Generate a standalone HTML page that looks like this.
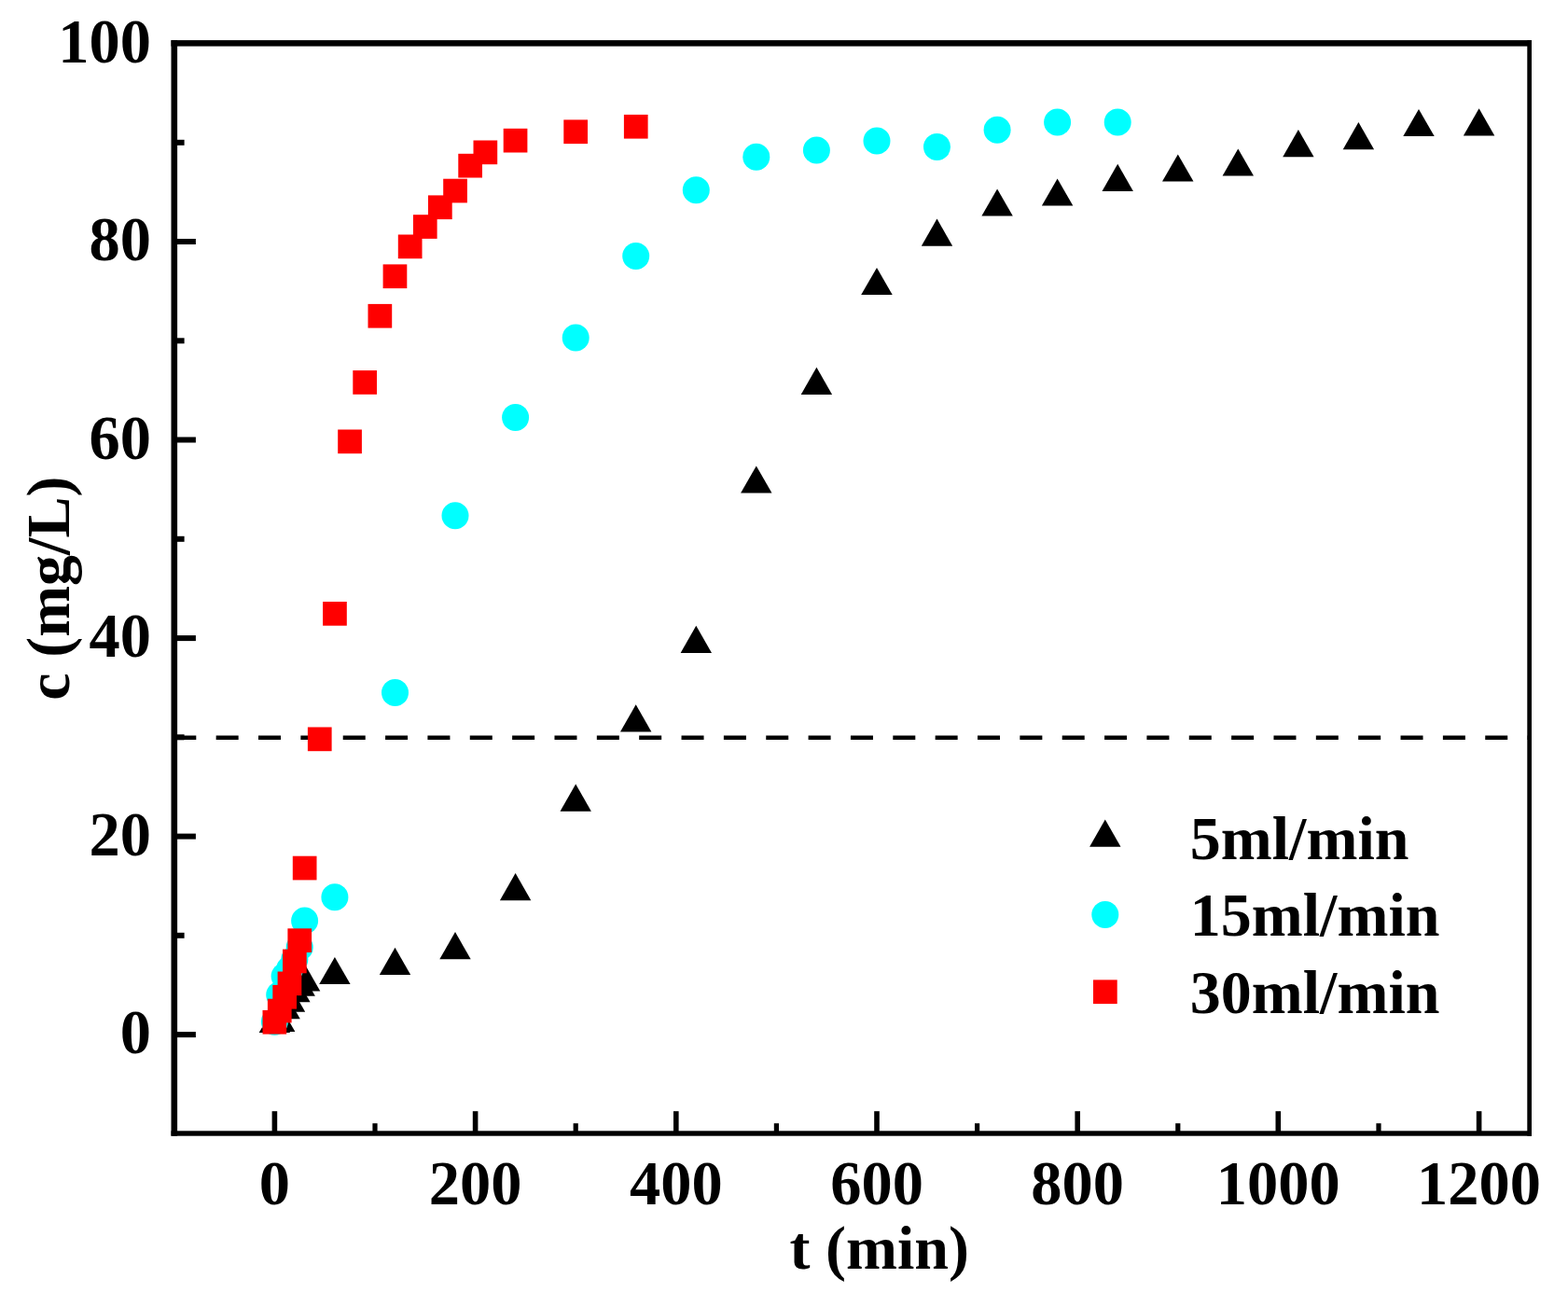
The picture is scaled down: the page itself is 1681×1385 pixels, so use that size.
<!DOCTYPE html>
<html lang="en"><head><meta charset="utf-8"><title>Breakthrough curves</title>
<style>
html,body{margin:0;padding:0;background:#fff;}
body{width:1681px;height:1385px;overflow:hidden;}
svg{display:block;}
text{font-family:"Liberation Serif",serif;font-weight:bold;font-size:66.5px;fill:#000;}
text.t66{font-size:66px;}
</style></head><body>
<svg width="1681" height="1385" viewBox="0 0 1681 1385">
<rect width="1681" height="1385" fill="#fff"/>
<line x1="186.3" y1="790.8" x2="1639.7" y2="790.8" stroke="#000" stroke-width="4.5" stroke-dasharray="24 21.353"/>
<g fill="#000">
<rect x="186.8" y="1106.1" width="23.1" height="6.0"/>
<rect x="186.8" y="999.8" width="10.8" height="6.0"/>
<rect x="186.8" y="893.6" width="23.1" height="6.0"/>
<rect x="186.8" y="787.3" width="10.8" height="6.0"/>
<rect x="186.8" y="681.1" width="23.1" height="6.0"/>
<rect x="186.8" y="574.8" width="10.8" height="6.0"/>
<rect x="186.8" y="468.5" width="23.1" height="6.0"/>
<rect x="186.8" y="362.3" width="10.8" height="6.0"/>
<rect x="186.8" y="256.0" width="23.1" height="6.0"/>
<rect x="186.8" y="149.8" width="10.8" height="6.0"/>
<rect x="291.6" y="1191.2" width="5.6" height="23.8"/>
<rect x="399.4" y="1204.2" width="5.2" height="10.8"/>
<rect x="506.8" y="1191.2" width="5.6" height="23.8"/>
<rect x="614.6" y="1204.2" width="5.2" height="10.8"/>
<rect x="722.0" y="1191.2" width="5.6" height="23.8"/>
<rect x="829.8" y="1204.2" width="5.2" height="10.8"/>
<rect x="937.2" y="1191.2" width="5.6" height="23.8"/>
<rect x="1045.0" y="1204.2" width="5.2" height="10.8"/>
<rect x="1152.4" y="1191.2" width="5.6" height="23.8"/>
<rect x="1260.2" y="1204.2" width="5.2" height="10.8"/>
<rect x="1367.5" y="1191.2" width="5.6" height="23.8"/>
<rect x="1475.4" y="1204.2" width="5.2" height="10.8"/>
<rect x="1582.8" y="1191.2" width="5.6" height="23.8"/>
<rect x="183.5" y="43.1" width="6.6" height="1174.6"/>
<rect x="1637.3" y="43.1" width="4.7" height="1174.6"/>
<rect x="183.5" y="43.1" width="1458.5" height="6.5"/>
<rect x="183.5" y="1212.3" width="1458.5" height="5.4"/>
</g>
<g fill="#000">
<polygon points="294.4,1077.9 311.1,1107.1 277.7,1107.1"/>
<polygon points="299.7,1076.9 316.4,1106.1 283.0,1106.1"/>
<polygon points="305.1,1063.1 321.8,1092.3 288.4,1092.3"/>
<polygon points="310.5,1055.6 327.2,1084.8 293.8,1084.8"/>
<polygon points="315.9,1045.0 332.6,1074.2 299.2,1074.2"/>
<polygon points="321.2,1038.6 337.9,1067.8 304.6,1067.8"/>
<polygon points="326.6,1033.3 343.3,1062.5 309.9,1062.5"/>
<polygon points="358.9,1025.9 375.6,1055.1 342.2,1055.1"/>
<polygon points="423.5,1015.8 440.2,1045.0 406.8,1045.0"/>
<polygon points="488.0,999.1 504.7,1028.3 471.3,1028.3"/>
<polygon points="552.6,936.0 569.3,965.2 535.9,965.2"/>
<polygon points="617.2,840.5 633.9,869.7 600.5,869.7"/>
<polygon points="681.7,755.3 698.4,784.5 665.0,784.5"/>
<polygon points="746.3,670.7 763.0,699.9 729.6,699.9"/>
<polygon points="810.8,499.4 827.5,528.6 794.1,528.6"/>
<polygon points="875.4,393.7 892.1,422.9 858.7,422.9"/>
<polygon points="940.0,286.9 956.7,316.1 923.2,316.1"/>
<polygon points="1004.5,234.6 1021.2,263.8 987.8,263.8"/>
<polygon points="1069.1,202.4 1085.8,231.6 1052.4,231.6"/>
<polygon points="1133.6,191.4 1150.3,220.6 1116.9,220.6"/>
<polygon points="1198.2,175.8 1214.9,205.0 1181.5,205.0"/>
<polygon points="1262.8,165.4 1279.5,194.6 1246.0,194.6"/>
<polygon points="1327.3,159.4 1344.0,188.6 1310.6,188.6"/>
<polygon points="1391.9,139.0 1408.6,168.2 1375.2,168.2"/>
<polygon points="1456.4,131.0 1473.1,160.2 1439.7,160.2"/>
<polygon points="1521.0,116.9 1537.7,146.1 1504.3,146.1"/>
<polygon points="1585.6,116.3 1602.3,145.5 1568.9,145.5"/>
</g><g fill="#00ffff">
<circle cx="294.4" cy="1095.3" r="14.5"/>
<circle cx="299.7" cy="1066.6" r="14.5"/>
<circle cx="305.1" cy="1046.4" r="14.5"/>
<circle cx="310.5" cy="1039.0" r="14.5"/>
<circle cx="315.9" cy="1028.3" r="14.5"/>
<circle cx="321.2" cy="1015.6" r="14.5"/>
<circle cx="326.6" cy="986.9" r="14.5"/>
<circle cx="358.9" cy="961.8" r="14.5"/>
<circle cx="423.5" cy="742.5" r="14.5"/>
<circle cx="488.0" cy="552.7" r="14.5"/>
<circle cx="552.6" cy="447.4" r="14.5"/>
<circle cx="617.2" cy="362.1" r="14.5"/>
<circle cx="681.7" cy="274.4" r="14.5"/>
<circle cx="746.3" cy="203.8" r="14.5"/>
<circle cx="810.8" cy="168.3" r="14.5"/>
<circle cx="875.4" cy="160.9" r="14.5"/>
<circle cx="940.0" cy="151.0" r="14.5"/>
<circle cx="1004.5" cy="157.6" r="14.5"/>
<circle cx="1069.1" cy="139.3" r="14.5"/>
<circle cx="1133.6" cy="131.0" r="14.5"/>
<circle cx="1198.2" cy="131.0" r="14.5"/>
</g><g fill="#ff0000">
<rect x="281.5" y="1082.9" width="25.7" height="25.7"/>
<rect x="286.9" y="1070.7" width="25.7" height="25.7"/>
<rect x="292.3" y="1055.9" width="25.7" height="25.7"/>
<rect x="297.6" y="1041.5" width="25.7" height="25.7"/>
<rect x="303.0" y="1017.6" width="25.7" height="25.7"/>
<rect x="308.4" y="995.3" width="25.7" height="25.7"/>
<rect x="313.8" y="917.7" width="25.7" height="25.7"/>
<rect x="329.9" y="779.5" width="25.7" height="25.7"/>
<rect x="346.1" y="645.0" width="25.7" height="25.7"/>
<rect x="362.2" y="460.5" width="25.7" height="25.7"/>
<rect x="378.3" y="397.1" width="25.7" height="25.7"/>
<rect x="394.5" y="325.9" width="25.7" height="25.7"/>
<rect x="410.6" y="283.4" width="25.7" height="25.7"/>
<rect x="426.8" y="251.5" width="25.7" height="25.7"/>
<rect x="442.9" y="230.2" width="25.7" height="25.7"/>
<rect x="459.0" y="209.4" width="25.7" height="25.7"/>
<rect x="475.2" y="191.7" width="25.7" height="25.7"/>
<rect x="491.3" y="164.8" width="25.7" height="25.7"/>
<rect x="507.5" y="150.5" width="25.7" height="25.7"/>
<rect x="539.7" y="137.8" width="25.7" height="25.7"/>
<rect x="604.3" y="128.4" width="25.7" height="25.7"/>
<rect x="668.9" y="122.9" width="25.7" height="25.7"/>
</g>
<g fill="#000"><polygon points="1184.8,878.5 1201.5,907.7 1168.1,907.7"/></g>
<circle cx="1184.8" cy="980.5" r="14.5" fill="#00ffff"/>
<rect x="1172.0" y="1050.4" width="25.7" height="25.7" fill="#ff0000"/>
<text class="t66" x="1275.8" y="920.5">5ml/min</text>
<text class="t66" x="1275.8" y="1003.1">15ml/min</text>
<text class="t66" x="1275.8" y="1085.8">30ml/min</text>
<text transform="translate(162,1129.4) scale(1,1.005)" text-anchor="end">0</text>
<text transform="translate(162,916.9) scale(1,1.005)" text-anchor="end">20</text>
<text transform="translate(162,704.4) scale(1,1.005)" text-anchor="end">40</text>
<text transform="translate(162,491.8) scale(1,1.005)" text-anchor="end">60</text>
<text transform="translate(162,279.3) scale(1,1.005)" text-anchor="end">80</text>
<text transform="translate(162,66.8) scale(1,1.005)" text-anchor="end">100</text>
<text transform="translate(294.4,1291.1) scale(1,1.005)" text-anchor="middle">0</text>
<text transform="translate(509.6,1291.1) scale(1,1.005)" text-anchor="middle">200</text>
<text transform="translate(724.8,1291.1) scale(1,1.005)" text-anchor="middle">400</text>
<text transform="translate(940.0,1291.1) scale(1,1.005)" text-anchor="middle">600</text>
<text transform="translate(1155.2,1291.1) scale(1,1.005)" text-anchor="middle">800</text>
<text transform="translate(1370.3,1291.1) scale(1,1.005)" text-anchor="middle">1000</text>
<text transform="translate(1585.6,1291.1) scale(1,1.005)" text-anchor="middle">1200</text>
<text class="t66" x="942.7" y="1359.5" text-anchor="middle">t (min)</text>
<text class="t66" transform="translate(74,630.6) rotate(-90)" text-anchor="middle">c (mg/L)</text>
</svg></body></html>
